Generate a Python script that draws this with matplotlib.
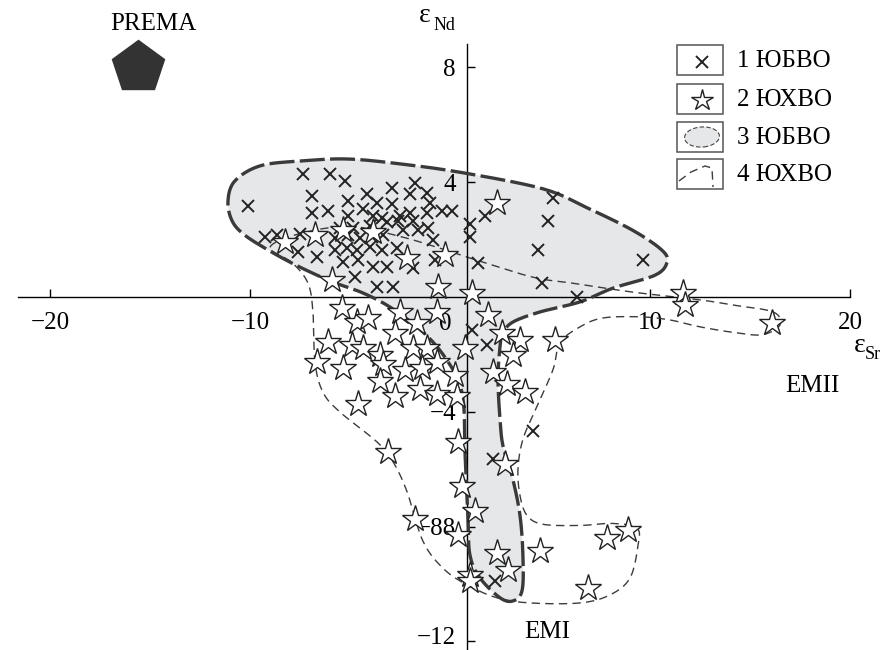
import numpy as np
import matplotlib
matplotlib.use("Agg")
import matplotlib.pyplot as plt
from matplotlib.patches import Polygon, Rectangle, Ellipse
from matplotlib.transforms import ScaledTranslation

plt.rcParams['font.family'] = ['Liberation Serif', 'DejaVu Serif']

# 1 ЮБВО (x markers): eps Sr, eps Nd
bv_sr = [-7.35, -6.0, -5.25, -10.1, -6.9, -5.1, -4.15, -2.9, -1.75, -2.0, -1.15, -2.9, -3.65,
         -4.35, -1.0, -0.4, 0.1, -6.9, -6.1, -5.1, -3.85, -3.4, -2.5, -2.0, -1.15, -9.25, -8.65,
         -7.5, -5.5, -4.85, -4.0, -3.15, -2.6, -1.85, -1.1, -5.75, -5.1, -4.5, -3.9, -3.35, -2.35,
         -1.6, -7.6, -5.75, -5.15, -4.65, -4.0, -3.4, -2.65, -0.85, -6.65, -5.35, -4.6, -3.85,
         -3.15, -1.85, -0.75, -4.75, -3.65, -2.85, 1.0, 1.0, 1.75, 5.15, 4.9, 4.4, 9.65, 1.4,
         4.6, 6.35, 1.1, 1.85, 4.15, 2.15, 2.25]
bv_nd = [4.29, 4.29, 4.05, 3.18, 3.53, 3.36, 3.60, 3.81, 3.98, 3.60, 3.63, 3.25, 3.29,
         3.08, 3.29, 3.01, 3.01, 2.94, 3.01, 2.84, 2.84, 2.77, 2.84, 2.94, 2.94, 2.08, 2.15,
         2.21, 2.39, 2.42, 2.49, 2.60, 2.66, 2.66, 2.39, 2.04, 2.15, 2.04, 2.08, 2.15, 2.32,
         2.32, 1.56, 1.63, 1.70, 1.63, 1.73, 1.63, 1.70, 1.97, 1.38, 1.21, 1.28, 1.04,
         1.04, 1.00, 1.28, 0.69, 0.35, 0.35, 2.56, 2.08, 2.84, 3.46, 2.66, 1.63, 1.28, 1.18,
         0.48, 0.0, -1.14, -1.66, -4.67, -5.64, -9.90]

# 2 ЮХВО (stars)
hv_sr = [-8.25, -6.75, -5.35, -3.85, -2.15, -0.25, 2.35, -5.9, -0.6, 1.1, 11.65, 11.75, 16.1,
         -5.4, -4.65, -4.1, -2.5, -1.65, -0.65, 1.9, -6.1, -4.9, -4.35, -3.5, -2.75, -1.85,
         -1.15, 0.75, 2.6, 3.5, 5.25, -6.65, -5.35, -3.35, -2.25, -1.4, -0.65, 0.25, 3.15,
         2.15, -3.5, -2.75, -1.5, -0.65, 0.35, 2.85, 3.75, -4.6, -3.1, 0.4, 2.75, 0.6, 1.25,
         -1.75, 0.4, 2.35, 2.9, 4.5, 1.0, 1.0, 7.85, 8.9, 6.9]
hv_nd = [1.90, 2.15, 2.32, 2.25, 1.35, 1.45, 3.29, 0.59, 0.35, 0.14, 0.14, -0.28, -0.90,
         -0.38, -0.87, -0.73, -0.52, -0.90, -0.52, -0.62, -1.56, -1.66, -1.76, -2.01, -1.25, -1.76,
         -1.76, -1.76, -1.25, -1.49, -1.49, -2.25, -2.46, -2.35, -2.53, -2.46, -2.28, -2.70, -2.01,
         -2.63, -2.94, -3.46, -3.22, -3.39, -3.46, -3.04, -3.32, -3.74, -5.40, -5.05, -5.81, -6.57, -7.44,
         -7.72, -8.30, -8.93, -9.52, -8.86, -9.69, -9.90, -8.41, -8.13, -10.14]

# 3 ЮБВО field outline
f3_sr = [-11.1, -10.75, -9.5, -7.5, -5.15, -2.5, 0.65, 4.65, 6.85, 9.15, 10.6, 10.85, 10.25,
         8.15, 6.5, 4.5, 3.15, 2.65, 2.5, 2.4, 2.5, 2.65, 3.1, 3.5, 3.65, 3.6, 3.15, 2.5,
         1.5, 1.0, 0.9, 0.75, 0.7, 0.5, 0.15, -0.65, -1.65, -3.0, -4.35, -5.85, -7.5, -8.9,
         -10.25, -10.9]
f3_nd = [3.36, 4.05, 4.57, 4.74, 4.81, 4.64, 4.33, 3.77, 3.11, 2.32, 1.63, 1.21, 0.76,
         0.31, -0.17, -0.52, -0.87, -1.25, -1.73, -2.87, -4.26, -5.19, -6.23, -7.61, -9.10, -10.24, -10.59, -10.48,
         -9.79, -9.00, -7.72, -5.40, -3.91, -3.04, -2.53, -1.73, -1.04, -0.35, 0.14, 0.52, 1.04, 1.56,
         2.15, 2.66]

# 4 ЮХВО field outline
f4_sr = [-9.0, -7.5, -5.0, -2.5, -0.5, 1.35, 4.15, 6.15, 9.15, 12.5, 14.15, 16.15, 16.5, 15.65,
         14.35, 12.5, 11.0, 9.5, 7.65, 6.5, 5.5, 5.15, 4.35, 3.65, 3.4, 3.5, 3.85, 4.65, 6.5,
         8.15, 9.35, 9.4, 9.0, 8.0, 6.5, 4.0, 2.35, 0.85, -0.35, -1.35, -2.15, -2.85, -3.65,
         -5.5, -6.35, -6.75, -6.85, -7.1, -7.9]
f4_nd = [1.73, 2.21, 2.46, 2.11, 1.70, 1.28, 0.69, 0.48, 0.17, -0.10, -0.28, -0.52, -0.97, -1.31,
         -1.25, -1.04, -0.80, -0.69, -0.73, -1.04, -1.59, -2.53, -3.81, -4.95, -5.99, -6.92, -7.61, -7.92, -7.96,
         -7.89, -8.06, -8.65, -9.79, -10.38, -10.66, -10.66, -10.48, -10.03, -9.45, -8.51, -6.78, -5.74, -5.05,
         -4.01, -3.32, -2.28, -0.55, 0.48, 1.2]

prema = (-15.6, 8.0)

x_ticks = [-20, -10, 10, 20]
y_ticks = [8, 4, -4, -8, -12]
y_labels = ['8', '4', '\u22124', '\u221288', '\u221212']


def smooth_closed(xs, ys, n=14):
    # closed Catmull-Rom outline
    p = np.column_stack([xs, ys])
    m = len(p)
    t = np.linspace(0, 1, n, endpoint=False)[:, None]
    out = []
    for i in range(m):
        p0, p1, p2, p3 = p[i - 1], p[i], p[(i + 1) % m], p[(i + 2) % m]
        seg = 0.5 * ((2 * p1) + (-p0 + p2) * t + (2 * p0 - 5 * p1 + 4 * p2 - p3) * t ** 2
                     + (-p0 + 3 * p1 - 3 * p2 + p3) * t ** 3)
        out.append(seg)
    out = np.vstack(out)
    return np.vstack([out, out[:1]])


W, H = 882, 650
fig = plt.figure(figsize=(W / 100, H / 100), dpi=100)
ax = fig.add_axes([0, 0, 1, 1])
ax.set_xlim(-22.5, 21.6)
ax.set_ylim(-12.30, 10.35)


def pos(px, py):
    return px / W, 1 - py / H


line_col = '#3a3a3a'

f3 = smooth_closed(f3_sr, f3_nd)
ax.add_patch(Polygon(f3, closed=True, facecolor='#e6e7e9', edgecolor='none', zorder=1))
f4 = smooth_closed(f4_sr, f4_nd)
ax.plot(f4[:, 0], f4[:, 1], color='#3c3c3c', lw=1.0, dashes=(6, 3.8), zorder=2)
ax.plot(f3[:, 0], f3[:, 1], color=line_col, lw=2.4, dashes=(7.5, 1.6), zorder=3)

ax.plot(bv_sr, bv_nd, linestyle='none', marker='x', ms=8, mew=1.4, color='#222222', zorder=4)
ax.plot(hv_sr, hv_nd, linestyle='none', marker='*', ms=20, mew=1.0, mfc='white',
        mec='#222222', zorder=5)
ax.plot(*prema, marker='p', ms=39, color='#333333', linestyle='none', zorder=5)

# axes through the data origin
for s in ['top', 'right']:
    ax.spines[s].set_visible(False)
ax.spines['bottom'].set_position(('data', 0))
ax.spines['bottom'].set_bounds(-21.6, 20)
ax.spines['left'].set_position(('data', 0.85))
ax.spines['left'].set_bounds(-12.4, 8.8)
for s in ['bottom', 'left']:
    ax.spines[s].set_linewidth(1.0)
    ax.spines[s].set_zorder(2.5)

ax.set_xticks(x_ticks)
ax.set_xticklabels([f'{v}'.replace('-', '\u2212') for v in x_ticks])
ax.set_yticks(y_ticks)
ax.set_yticklabels(y_labels)
ax.tick_params(axis='x', direction='in', length=6, width=1, pad=11, labelsize=18)
ax.tick_params(axis='y', direction='in', length=6, width=1, pad=8, labelsize=18)
# nudge the lowest label up so it stays inside the frame
low = ax.get_yticklabels()[-1]
low.set_transform(low.get_transform() + ScaledTranslation(0, 4 / 72, fig.dpi_scale_trans))
ax.text(-0.25, -0.93, '0', fontsize=18, ha='center', va='center')

# axis titles and labels
ax.text(*pos(425, 16), '\u03b5', transform=ax.transAxes, fontsize=20, ha='center', va='center')
ax.text(*pos(444, 25), 'Nd', transform=ax.transAxes, fontsize=13, ha='center', va='center')
ax.text(*pos(860, 346), '\u03b5', transform=ax.transAxes, fontsize=20, ha='center', va='center')
ax.text(*pos(873, 355), 'Sr', transform=ax.transAxes, fontsize=13, ha='center', va='center')
ax.text(*pos(812, 386), 'EMII', transform=ax.transAxes, fontsize=18, ha='center', va='center')
ax.text(*pos(547, 632), 'EMI', transform=ax.transAxes, fontsize=18, ha='center', va='center')
ax.text(*pos(153, 24), 'PREMA', transform=ax.transAxes, fontsize=18, ha='center', va='center')

# legend drawn by hand
box_tops = [45, 84, 122, 159]
labels = ['1 ЮБВО', '2 ЮХВО', '3 ЮБВО', '4 ЮХВО']
for top, lab in zip(box_tops, labels):
    x0, y0 = pos(677, top + 30)
    ax.add_patch(Rectangle((x0, y0), 46 / W, 30 / H, transform=ax.transAxes,
                           facecolor='white', edgecolor='#555555', lw=1.1, zorder=6))
    ax.text(*pos(737, top + 16), lab, transform=ax.transAxes, fontsize=18,
            ha='left', va='center', zorder=6)
ax.plot(*pos(702, 62), transform=ax.transAxes, marker='x', ms=8, mew=1.4,
        color='#222222', zorder=7)
ax.plot(*pos(702, 100), transform=ax.transAxes, marker='*', ms=16, mew=1.0,
        mfc='white', mec='#222222', zorder=7)
ax.add_patch(Ellipse(pos(702, 137), 35 / W, 20 / H, angle=8, transform=ax.transAxes,
                     facecolor='#e6e7e9', edgecolor='#444444', lw=0.8,
                     linestyle=(0, (4, 2)), zorder=7))
lx, ly = zip(*[pos(679, 181), pos(691, 172), pos(705, 166), pos(712, 168), pos(713, 187)])
ax.plot(lx, ly, transform=ax.transAxes, color='#3c3c3c', lw=1.0, dashes=(6, 3.8), zorder=7)

fig.savefig('out.png', dpi=100)
